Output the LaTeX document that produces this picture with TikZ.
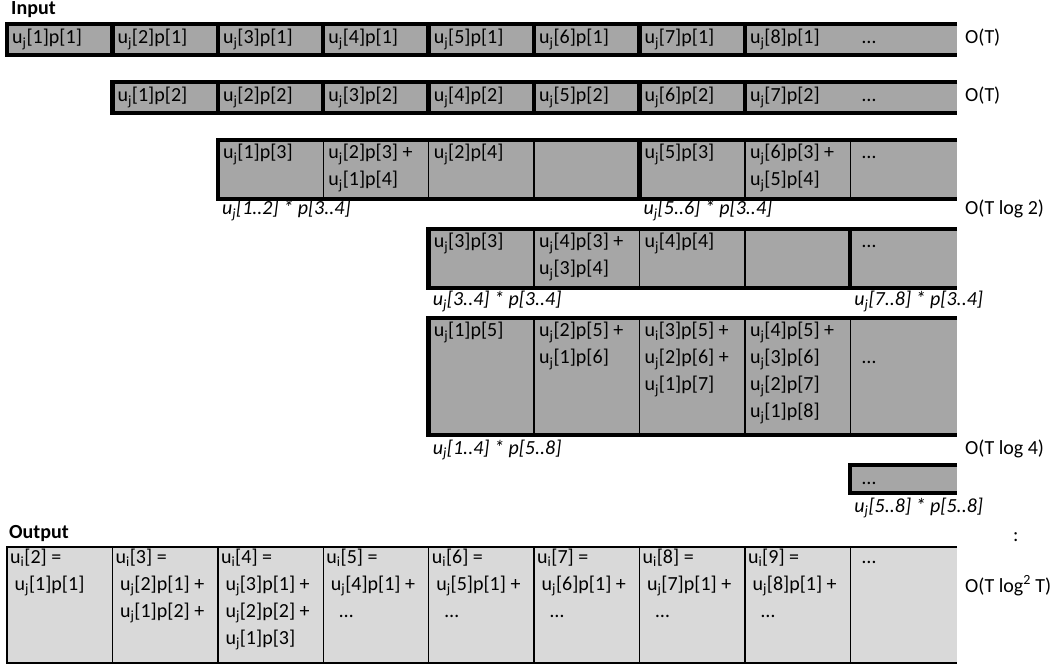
\documentclass[tikz,border=0pt]{standalone}
\usepackage{xcolor}
\usepackage{fontspec}
\setmainfont{Carlito}
\usepackage{tikz}
\usetikzlibrary{positioning}
\definecolor{ingray}{HTML}{A6A6A6}
\definecolor{outgray}{HTML}{D9D9D9}
\newcommand{\uj}{u\textsubscript{j}}
\newcommand{\ui}{u\textsubscript{i}}
% 多行单元格：以首行基线对齐
\newcommand{\cellrows}[1]{\begin{tabular}[t]{@{}l@{}}#1\end{tabular}}
\tikzset{
    cell_text/.style={
        anchor=base west,     % 坐标即首行基线
        inner sep=0pt,        % 不留内边距
        font=\fontsize{20}{27}\selectfont
    },
    note_text/.style={
        cell_text,
        font=\fontsize{20}{27}\selectfont\itshape  % 斜体说明
    },
    title_text/.style={
        cell_text,
        font=\fontsize{20}{27}\selectfont\bfseries % 粗体标题
    },
    thick_rule/.style={
        draw=black,           % 粗边框
        line width=4.5pt
    },
    thin_rule/.style={
        draw=black,           % 细分隔线
        line width=1.4pt
    }
}

\begin{document}
\begin{tikzpicture}[x=1pt, y=-1pt]
    \useasboundingbox (0,0) rectangle (1058,668);

    % 1. 输入的前两行
    \node[title_text] (input) at (11,15) {Input};
    \fill[ingray] (7,24) rectangle (957,55);
    \foreach \k in {2,...,8}
        \draw[thick_rule] ({7+(\k-1)*105.4},24) -- ++(0,31);
    \draw[thick_rule] (957,24) -| (7,55) -- (957,55);
    \foreach \k in {1,...,8}
        \node[cell_text] (r1c\k) at ({12+(\k-1)*105.4},44) {\uj[\k]p[1]};
    \node[cell_text] (r1dots) at (862,44) {…};
    \node[cell_text] (cost1) at (965,44) {O(T)};

    \fill[ingray] (112.4,82) rectangle (957,113);
    \foreach \k in {3,...,8}
        \draw[thick_rule] ({7+(\k-1)*105.4},82) -- ++(0,31);
    \draw[thick_rule] (957,82) -| (112.4,113) -- (957,113);
    \foreach \k in {1,...,7}
        \node[cell_text] (r2c\k) at ({12+\k*105.4},102) {\uj[\k]p[2]};
    \node[cell_text] (r2dots) at (862,102) {…};
    \node[cell_text] (cost2) at (965,102) {O(T)};

    % 2. 两两相乘
    \fill[ingray] (217.8,140) rectangle (957,199);
    \foreach \k in {4,5,6,8,9}
        \draw[thin_rule] ({7+(\k-1)*105.4},140) -- ++(0,59);
    \draw[thick_rule] (639.4,140) -- (639.4,199);
    \draw[thick_rule] (957,140) -| (217.8,199) -- (957,199);
    \foreach \k/\cont in {3/{\uj[1]p[3]}, 4/{\cellrows{\uj[2]p[3] +\\\uj[1]p[4]}}, 5/{\uj[2]p[4]},
                          7/{\uj[5]p[3]}, 8/{\cellrows{\uj[6]p[3] +\\\uj[5]p[4]}}}
        \node[cell_text] (r3c\k) at ({12+(\k-1)*105.4},159) {\cont};
    \node[cell_text] (r3dots) at (862,159) {…};
    \node[note_text] (sum12) at (221.8,215) {\uj[1..2] * p[3..4]};
    \node[note_text] (sum56) at (643.4,215) {\uj[5..6] * p[3..4]};
    \node[cell_text] (cost3) at (965,215) {O(T log 2)};

    \fill[ingray] (428.6,229) rectangle (957,288);
    \foreach \k in {6,7,8}
        \draw[thin_rule] ({7+(\k-1)*105.4},229) -- ++(0,59);
    \draw[thick_rule] (850.2,229) -- (850.2,288);
    \draw[thick_rule] (957,229) -| (428.6,288) -- (957,288);
    \foreach \k/\cont in {5/{\uj[3]p[3]}, 6/{\cellrows{\uj[4]p[3] +\\\uj[3]p[4]}}, 7/{\uj[4]p[4]}}
        \node[cell_text] (r4c\k) at ({12+(\k-1)*105.4},248) {\cont};
    \node[cell_text] (r4dots) at (862,248) {…};
    \node[note_text] (sum34) at (432.6,306) {\uj[3..4] * p[3..4]};
    \node[note_text] (sum78) at (854.2,306) {\uj[7..8] * p[3..4]};

    % 3. 四个一组
    \fill[ingray] (428.6,318) rectangle (957,435);
    \foreach \k in {6,7,8,9}
        \draw[thin_rule] ({7+(\k-1)*105.4},318) -- ++(0,117);
    \draw[thick_rule] (957,318) -| (428.6,435) -- (957,435);
    \foreach \k/\cont in {5/{\uj[1]p[5]}, 6/{\cellrows{\uj[2]p[5] +\\\uj[1]p[6]}},
                          7/{\cellrows{\ui[3]p[5] +\\\uj[2]p[6] +\\\uj[1]p[7]}},
                          8/{\cellrows{\uj[4]p[5] +\\\uj[3]p[6]\\\uj[2]p[7]\\\uj[1]p[8]}}}
        \node[cell_text] (r5c\k) at ({12+(\k-1)*105.4},337) {\cont};
    \node[cell_text] (r5dots) at (862,364) {…};
    \node[note_text] (sum14) at (432.6,454) {\uj[1..4] * p[5..8]};
    \node[cell_text] (cost5) at (965,454) {O(T log 4)};

    \fill[ingray] (850.2,465) rectangle (957,493);
    \draw[thick_rule] (957,465) -| (850.2,493) -- (957,493);
    \node[cell_text] (r6dots) at (862,484) {…};
    \node[note_text] (sum58) at (854.2,512) {\uj[5..8] * p[5..8]};

    % 4. 输出
    \node[title_text] (output) at (9,538) {Output};
    \node[cell_text] (more) at (1013,541) {:};
    \fill[outgray] (7,547) rectangle (957,663);
    \foreach \k in {2,...,9}
        \draw[thin_rule] ({7+(\k-1)*105.4},547) -- ++(0,116);
    \draw[thin_rule] (957,547) -| (7,663) -- (957,663);
    \node[cell_text] (out1) at (10,563) {\cellrows{\ui[2] =\\\hspace*{4.5pt}\uj[1]p[1]}};
    \node[cell_text] (out2) at (115.4,563)
        {\cellrows{\ui[3] =\\\hspace*{4.5pt}\uj[2]p[1] +\\\hspace*{4.5pt}\uj[1]p[2] +}};
    \node[cell_text] (out3) at (220.8,563)
        {\cellrows{\ui[4] =\\\hspace*{4.5pt}\uj[3]p[1] +\\\hspace*{4.5pt}\uj[2]p[2] +\\\hspace*{4.5pt}\uj[1]p[3]}};
    \foreach \k in {4,...,8} {
        \pgfmathtruncatemacro\nxt{\k+1}
        \node[cell_text] (out\k) at ({10+(\k-1)*105.4},563)
            {\cellrows{\ui[\nxt] =\\\hspace*{4.5pt}\uj[\k]p[1] +\\\hspace*{13pt}…}};
    }
    \node[cell_text] (out9) at (862,563) {…};
    \node[cell_text] (cost6) at (965,592) {O(T log\textsuperscript{2} T)};
\end{tikzpicture}
\end{document}
